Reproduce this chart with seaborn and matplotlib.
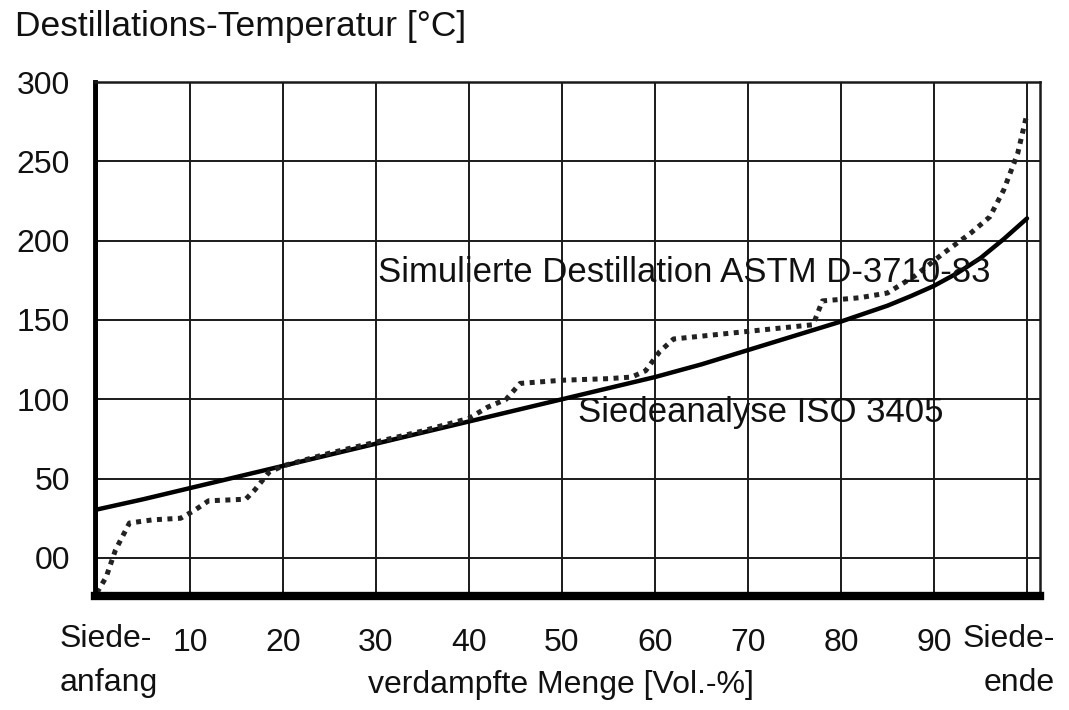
import matplotlib
matplotlib.use("Agg")
import matplotlib.pyplot as plt
import seaborn as sns
import pandas as pd

# ---- data ----
iso_x = [0, 5, 10, 15, 20, 25, 30, 35, 40, 45, 50, 55, 60, 65, 70, 75, 80, 85, 87.5, 90, 92.5, 95, 97.5, 100]
iso_y = [30.5, 37, 44, 51, 58, 65, 72, 79, 86, 93, 100, 107, 114, 122, 131, 140, 149, 159, 165, 171.5, 179.5, 189, 201, 214]

astm_x = [0, 1, 2, 3.5, 6, 9, 10.5, 12, 16, 17, 18.5, 20, 25, 30, 35, 40, 42, 44, 45.5, 50, 55,
          57.5, 59, 60.5, 62, 67, 72, 77, 78, 82, 85, 88, 91, 94, 96, 97.5, 99, 100]
astm_y = [-22, -12, 5, 22, 24, 25, 30, 36, 37, 43, 54, 58, 66, 73, 80, 88, 95, 100, 110, 112, 113,
          114, 118, 130, 138, 141, 144, 147, 162, 164, 167, 178, 192, 205, 215, 232, 255, 280]

x_ticks = [0, 10, 20, 30, 40, 50, 60, 70, 80, 90, 100]
x_labels = ["", "10", "20", "30", "40", "50", "60", "70", "80", "90", ""]
x_start_label = "Siede-\nanfang"
x_end_label = "Siede-\nende"
y_ticks = [0, 50, 100, 150, 200, 250, 300]
y_labels = ["00", "50", "100", "150", "200", "250", "300"]

title = "Destillations-Temperatur [°C]"
xlabel = "verdampfte Menge [Vol.-%]"
label_astm = "Simulierte Destillation ASTM D-3710-83"
label_iso = "Siedeanalyse ISO 3405"

df_iso = pd.DataFrame({"x": iso_x, "y": iso_y})
df_astm = pd.DataFrame({"x": astm_x, "y": astm_y})

sns.set_style("white")
plt.rcParams["font.family"] = ["Liberation Sans", "DejaVu Sans"]

fig = plt.figure(figsize=(10.69, 7.10), dpi=100)
ax = fig.add_axes([0.0889, 0.1606, 0.9729 - 0.0889, 0.8845 - 0.1606])

ax.set_xlim(-0.2, 101.4)
ax.set_ylim(-24, 300)

# grid
ax.set_xticks(x_ticks)
ax.set_yticks(y_ticks)
ax.grid(True, color="#1a1a1a", linewidth=1.4)
ax.set_axisbelow(True)

sns.lineplot(data=df_iso, x="x", y="y", ax=ax, color="black", linewidth=3.2,
             estimator=None, sort=False)
sns.lineplot(data=df_astm, x="x", y="y", ax=ax, color="#222222", linewidth=3.6,
             estimator=None, sort=False, dashes=False, linestyle=(0, (1, 1.1)))

ax.set_xlabel("")
ax.set_ylabel("")

ax.set_xticklabels(x_labels, fontsize=23, color="#111111")
ax.set_yticklabels(y_labels, fontsize=23, color="#111111")

ax.tick_params(axis="x", direction="out", length=9, width=1.3, pad=14, colors="#111111")
ax.tick_params(axis="y", direction="out", length=10, width=1.3, pad=8, colors="#111111")

xform = ax.get_xaxis_transform()
ax.text(-4.0, -0.054, x_start_label, transform=xform, fontsize=23, ha="left", va="top",
        multialignment="left", linespacing=1.6, color="#111111")
ax.text(103.0, -0.054, x_end_label, transform=xform, fontsize=23, ha="right", va="top",
        multialignment="right", linespacing=1.6, color="#111111", clip_on=False)

for side in ["top", "right"]:
    ax.spines[side].set_linewidth(1.8)
    ax.spines[side].set_color("#1a1a1a")
ax.spines["left"].set_linewidth(3.5)
ax.spines["left"].set_color("black")
ax.spines["bottom"].set_linewidth(6)
ax.spines["bottom"].set_color("black")

ax.text(30.2, 180, label_astm, fontsize=25, va="center", ha="left", color="#111111")
ax.text(51.7, 91.5, label_iso, fontsize=25, va="center", ha="left", color="#111111")

fig.text(0.014, 0.962, title, fontsize=25.5, va="center", ha="left", color="#111111")
fig.text(0.525, 0.035, xlabel, fontsize=23, va="center", ha="center", color="#111111")

fig.savefig("out.png", dpi=100, facecolor="white")
